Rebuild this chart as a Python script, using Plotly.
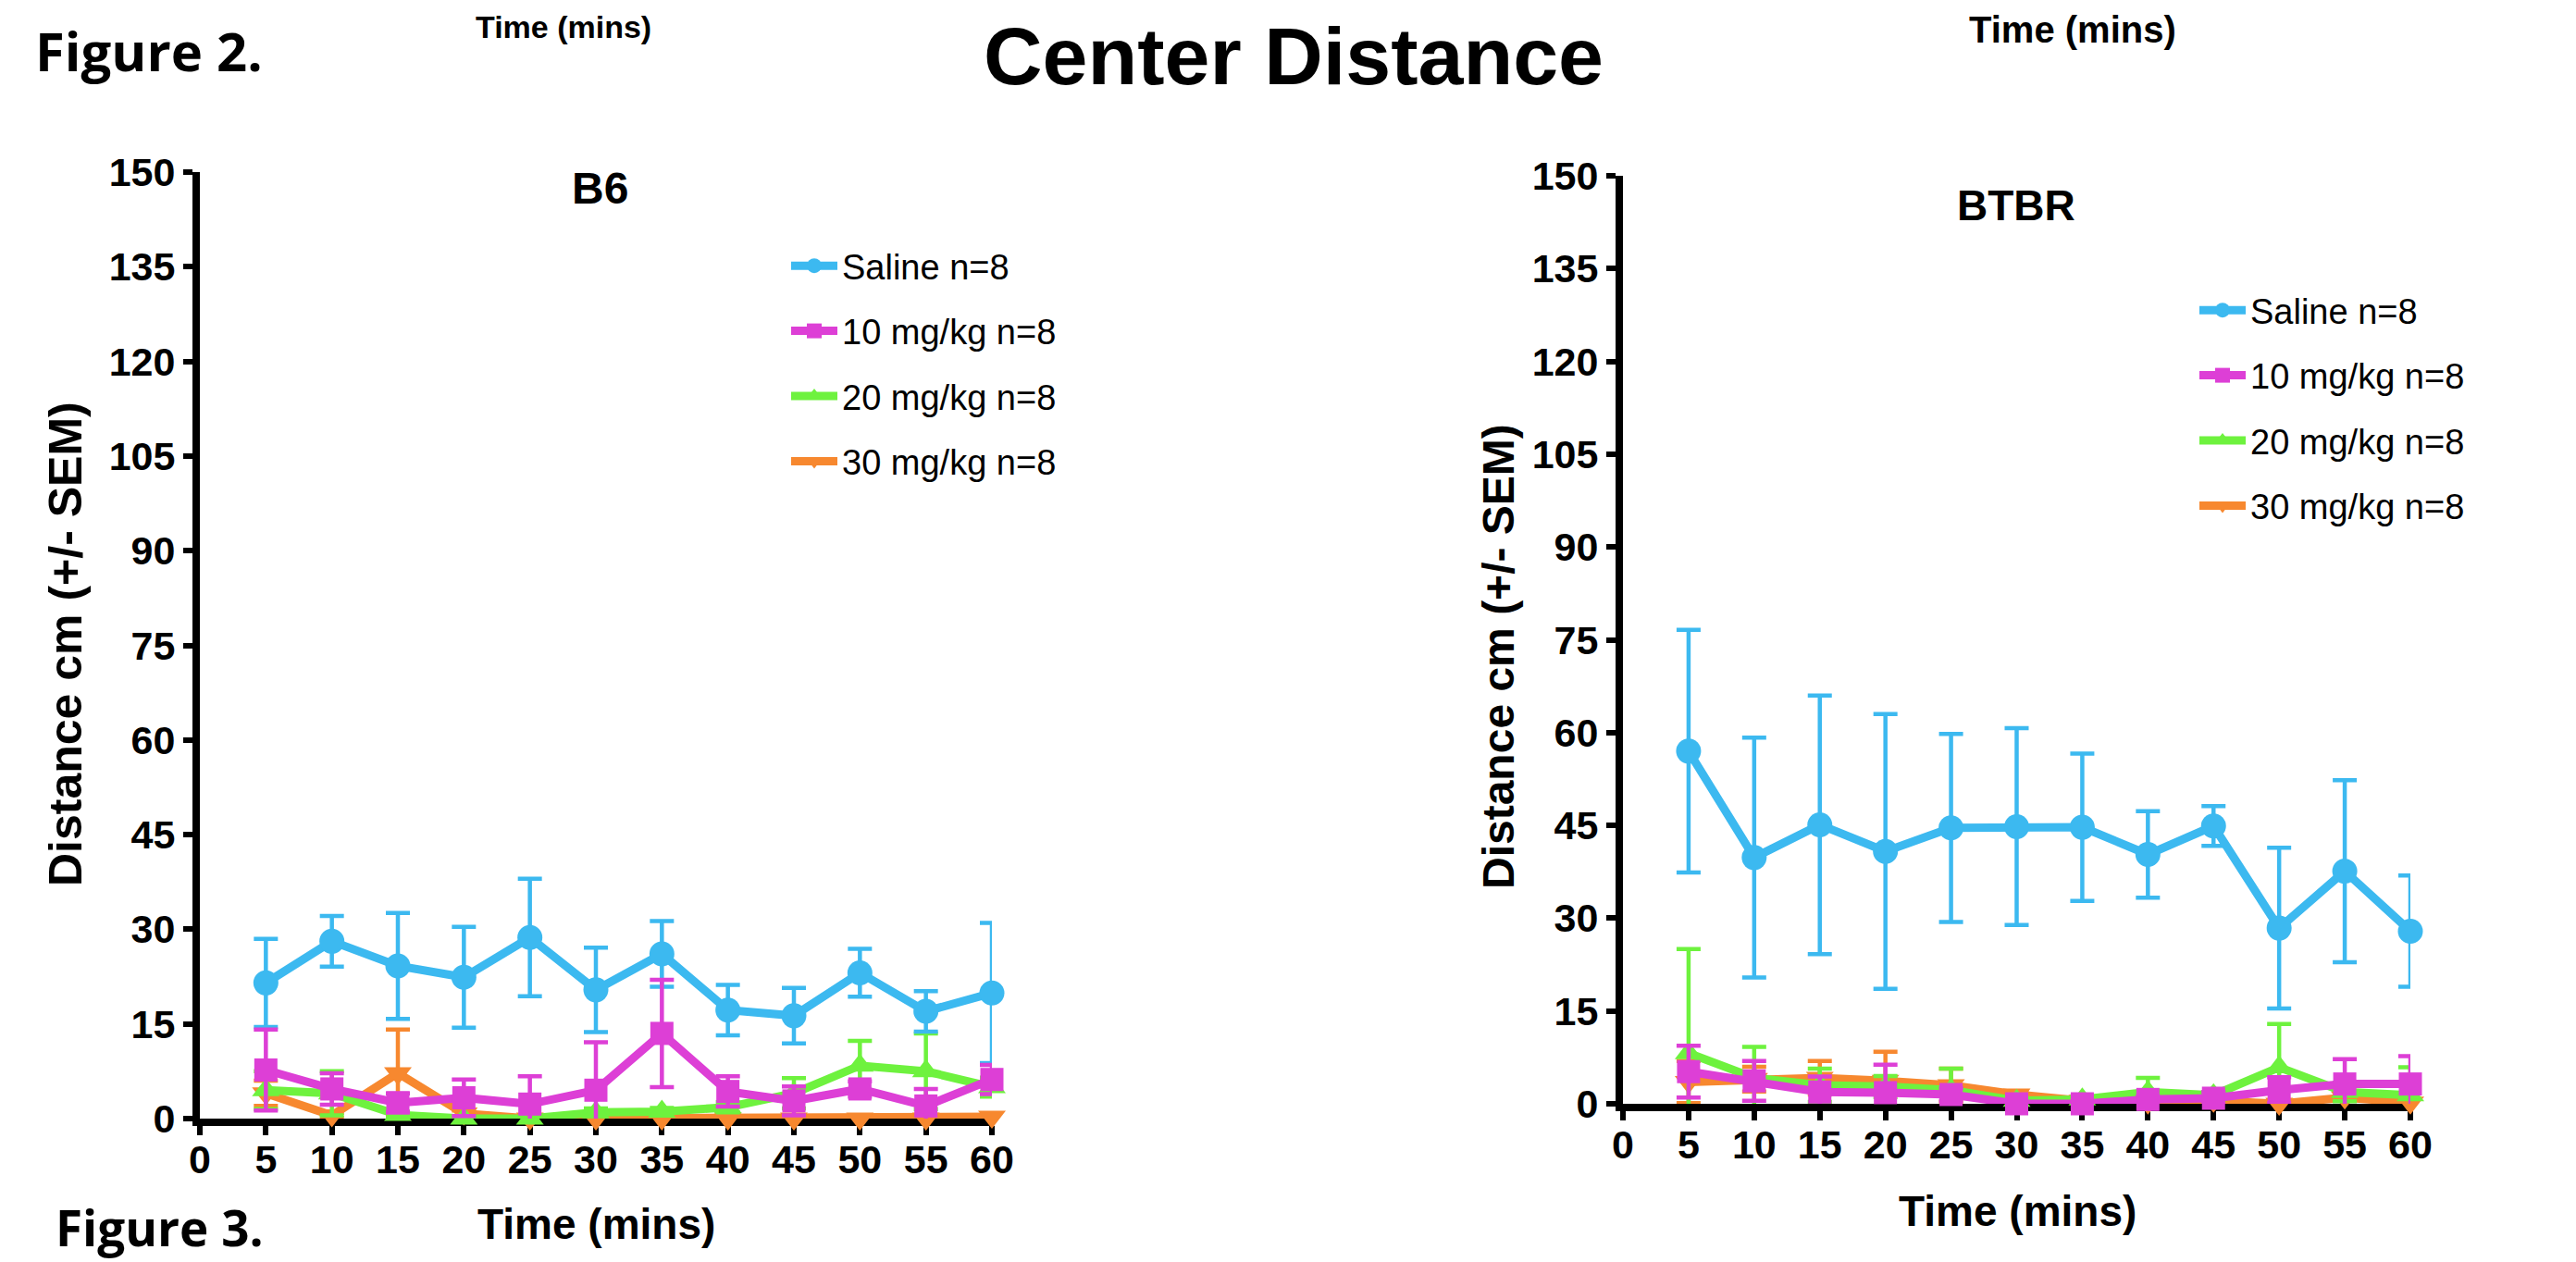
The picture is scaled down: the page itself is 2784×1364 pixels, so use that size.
import plotly.graph_objects as go

# ---------------- data ----------------
time_mins = [5, 10, 15, 20, 25, 30, 35, 40, 45, 50, 55, 60]
x_ticks = [0, 5, 10, 15, 20, 25, 30, 35, 40, 45, 50, 55, 60]
y_ticks = [0, 15, 30, 45, 60, 75, 90, 105, 120, 135, 150]
group_names = ["Saline n=8", "10 mg/kg n=8", "20 mg/kg n=8", "30 mg/kg n=8"]

b6_saline = [21.5, 28.1, 24.2, 22.4, 28.7, 20.4, 26.1, 17.2, 16.3, 23.1, 17.0, 19.9]
b6_saline_sem = [7.0, 4.0, 8.4, 8.0, 9.3, 6.7, 5.2, 4.0, 4.4, 3.8, 3.2, 11.1]
b6_10 = [7.7, 4.7, 2.5, 3.3, 2.3, 4.5, 13.5, 4.3, 2.8, 4.7, 2.0, 6.2]
b6_10_sem = [6.4, 2.5, 1.5, 2.9, 4.4, 7.6, 8.5, 2.4, 2.3, 1.2, 2.7, 2.3]
b6_20 = [4.5, 4.0, 0.6, 0.0, 0.0, 1.0, 1.1, 1.8, 4.0, 8.4, 7.5, 5.0]
b6_20_sem = [3.0, 3.5, 0.5, 0.3, 0.3, 0.6, 0.6, 0.8, 2.4, 3.9, 6.0, 1.5]
b6_30 = [4.0, 0.5, 7.2, 0.8, 0.0, 0.0, 0.0, 0.0, 0.0, 0.0, 0.0, 0.3]
b6_30_sem = [2.0, 0.4, 6.9, 0.5, 0.0, 0.0, 0.0, 0.0, 0.0, 0.0, 0.0, 0.0]

btbr_saline = [57.0, 39.8, 45.1, 40.8, 44.6, 44.8, 44.7, 40.3, 44.9, 28.4, 37.6, 27.9]
btbr_saline_sem = [19.6, 19.4, 20.9, 22.2, 15.2, 15.9, 11.9, 7.0, 3.2, 13.0, 14.7, 9.0]
btbr_10 = [5.2, 3.7, 1.9, 1.8, 1.5, 0.0, 0.0, 0.7, 0.9, 2.2, 3.2, 3.2]
btbr_10_sem = [4.2, 3.2, 2.5, 4.5, 1.0, 0.3, 0.3, 0.5, 1.0, 2.1, 4.0, 4.5]
btbr_20 = [8.2, 4.2, 3.0, 2.8, 2.2, 0.5, 0.7, 1.9, 1.4, 5.9, 1.9, 1.4]
btbr_20_sem = [16.8, 5.0, 2.7, 1.7, 3.5, 0.5, 0.5, 2.3, 0.5, 7.0, 1.5, 4.5]
btbr_30 = [3.5, 4.0, 4.2, 3.7, 3.0, 1.5, 0.5, 0.2, 0.5, 0.0, 1.0, 0.2]
btbr_30_sem = [3.4, 2.0, 2.7, 4.7, 2.7, 0.5, 0.3, 0.2, 0.3, 0.2, 0.5, 0.2]

# ---------------- style ----------------
COLORS = ["#3CB9F0", "#DD3FD6", "#6EF23E", "#F7882F"]
SYMBOLS = ["circle", "square", "triangle-up", "triangle-down"]
SIZES = [27, 25, 26, 26]
NARROW = "Liberation Sans Narrow, Arial Narrow, Liberation Sans, Arial, sans-serif"
SANS = "Liberation Sans, Arial, sans-serif"
FIGFONT = "Open Sans, Lato, sans-serif"

W, H = 2784, 1364
PAGE_OFFSET = 8  # default page margin of the html body


def px_x(p):
    return (p - PAGE_OFFSET) / W


def px_y(p):
    return 1 - (p - PAGE_OFFSET) / H


fig = go.Figure()

panels = [
    ("x", "y", "legend", [b6_saline, b6_10, b6_20, b6_30],
     [b6_saline_sem, b6_10_sem, b6_20_sem, b6_30_sem]),
    ("x2", "y2", "legend2", [btbr_saline, btbr_10, btbr_20, btbr_30],
     [btbr_saline_sem, btbr_10_sem, btbr_20_sem, btbr_30_sem]),
]

draw_order = [3, 2, 0, 1]
for xa, ya, lg, means, sems in panels:
    for i in draw_order:
        fig.add_trace(go.Scatter(
            x=time_mins, y=means[i], xaxis=xa, yaxis=ya,
            mode="lines+markers", name=group_names[i],
            legend=lg, legendrank=i + 1, legendgroup=f"{lg}_{i}",
            line=dict(color=COLORS[i], width=9),
            marker=dict(symbol=SYMBOLS[i], size=SIZES[i], color=COLORS[i]),
            error_y=dict(type="data", array=sems[i], visible=True,
                         color=COLORS[i], thickness=4.5, width=13),
            cliponaxis=False,
        ))

axis_common = dict(
    range=[0, 60], showgrid=False, zeroline=False, showline=True,
    linecolor="black", linewidth=8, ticks="outside", ticklen=10,
    tickwidth=6, tickcolor="black", layer="below traces",
    tickfont=dict(family=NARROW, size=43, color="black", weight="bold"),
    tickvals=x_ticks, fixedrange=True, ticklabelstandoff=-11,
)
yaxis_common = dict(
    range=[0, 150], showgrid=False, zeroline=False, showline=True,
    linecolor="black", linewidth=8, ticks="outside", ticklen=10,
    tickwidth=6, tickcolor="black", layer="below traces",
    tickfont=dict(family=NARROW, size=43, color="black", weight="bold"),
    tickvals=y_ticks, fixedrange=True,
)

legend_common = dict(
    font=dict(family=NARROW, size=38, color="black"),
    bgcolor="rgba(0,0,0,0)", borderwidth=0, tracegroupgap=18,
    xanchor="left", yanchor="top", itemwidth=50,
    itemclick=False, itemdoubleclick=False,
)

fig.update_layout(
    width=W, height=H,
    margin=dict(l=0, r=0, t=0, b=0, autoexpand=False),
    paper_bgcolor="white", plot_bgcolor="white",
    showlegend=True,
    xaxis=dict(domain=[px_x(216), px_x(1072)], anchor="y", **axis_common),
    yaxis=dict(domain=[px_y(1209), px_y(186)], anchor="x", **yaxis_common),
    xaxis2=dict(domain=[px_x(1754), px_x(2605)], anchor="y2", **axis_common),
    yaxis2=dict(domain=[px_y(1193), px_y(190)], anchor="x2", **yaxis_common),
    legend=dict(x=px_x(850), y=px_y(256), **legend_common),
    legend2=dict(x=px_x(2372), y=px_y(304), **legend_common),
)


def text(s, x, y, size, family=SANS, bold=True, angle=0, xanchor="center", yanchor="middle"):
    fig.add_annotation(
        text=s, x=px_x(x), y=px_y(y), xref="paper", yref="paper",
        showarrow=False, textangle=angle, xanchor=xanchor, yanchor=yanchor,
        font=dict(family=family, size=size, color="black",
                  weight="bold" if bold else "normal"),
    )


# panel titles
text("B6", 648, 204, 48)
text("BTBR", 2179, 222, 46)
# axis titles
text("Time (mins)", 644, 1323, 46, family=NARROW)
text("Time (mins)", 2180, 1309, 46, family=NARROW)
text("Distance cm (+/- SEM)", 71, 696, 50, angle=-90)
text("Distance cm (+/- SEM)", 1619, 710, 48, angle=-90)
# figure-level text (scan)
text("Center Distance", 1398, PAGE_OFFSET + 1, 88, yanchor="top")
text("Figure 2.", 36, 55, 58, family=FIGFONT, xanchor="left")
text("Figure 3.", 58, 1326, 53, family=FIGFONT, xanchor="left")
text("Time (mins)", 609, PAGE_OFFSET, 34, family=NARROW, yanchor="top")
text("Time (mins)", 2240, PAGE_OFFSET, 40, family=NARROW, yanchor="top")

fig.write_html("out.html")
